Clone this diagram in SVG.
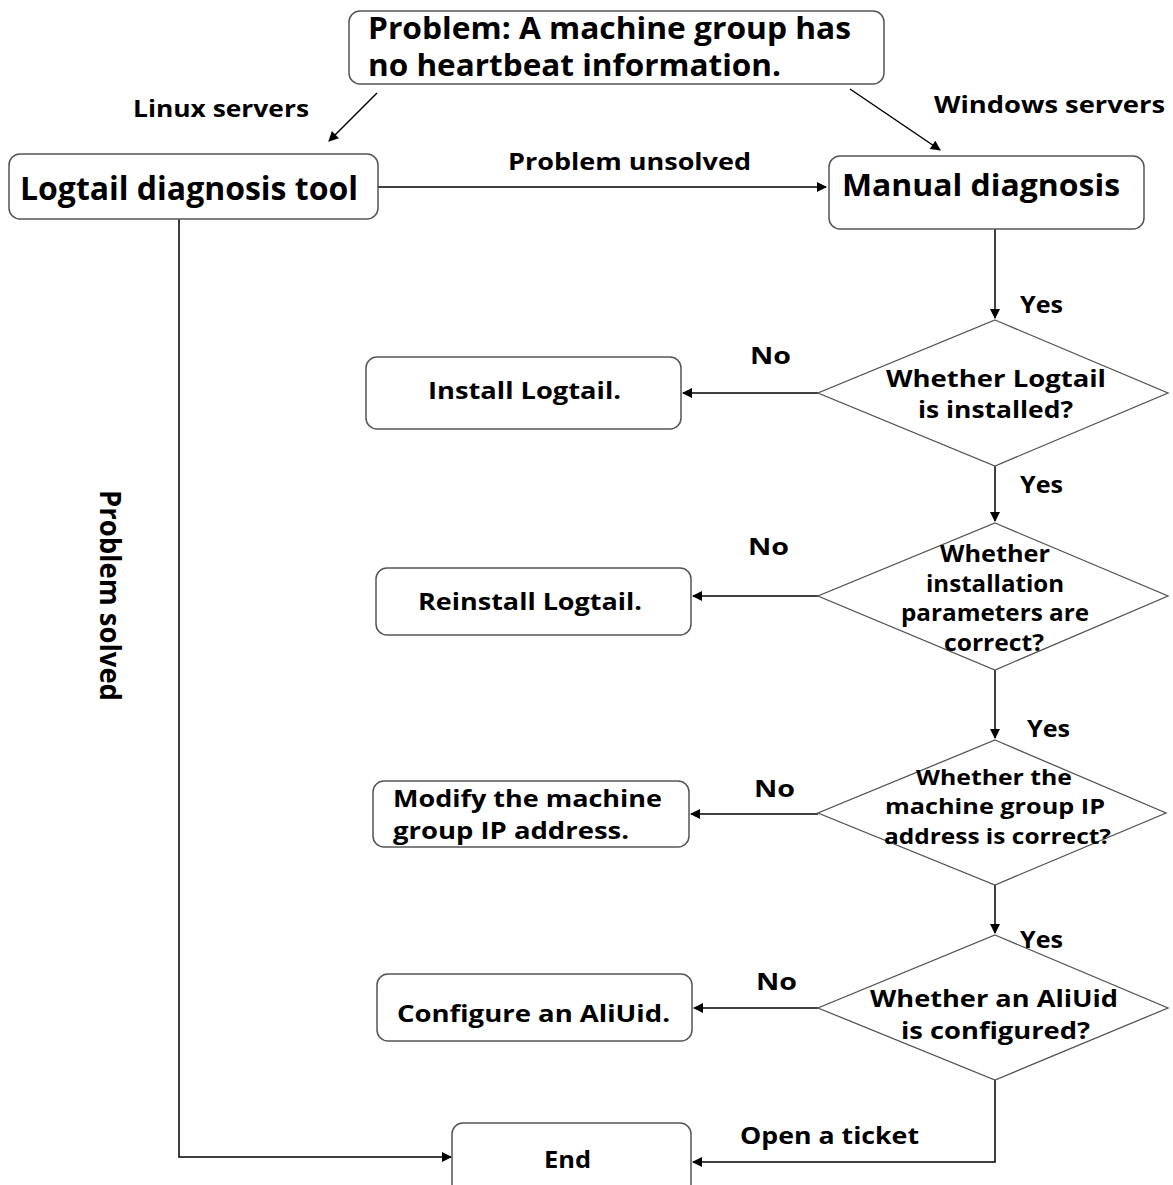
<svg xmlns="http://www.w3.org/2000/svg" width="1173" height="1185" viewBox="0 0 1173 1185">
<style>
.box{fill:#fff;stroke:#555;stroke-width:1.5}
.dia{fill:#fff;stroke:#555;stroke-width:1.3}
.t{font-family:"Open Sans","Noto Sans","DejaVu Sans",sans-serif;font-weight:bold;fill:#000}
.c{fill:none;stroke:#000;stroke-width:1.5}
</style>
<defs>
<marker id="ahs" viewBox="0 0 10 10" refX="9" refY="5" markerWidth="12" markerHeight="10" markerUnits="userSpaceOnUse" orient="auto">
<path d="M0,0 L10,5 L0,10 z" fill="#000"/>
</marker>
</defs>
<rect width="1173" height="1185" fill="#fff"/>
<g id="connectors">
<line class="c" x1="377" y1="93" x2="329" y2="141" marker-end="url(#ahs)"/>
<line class="c" x1="850" y1="89" x2="940" y2="150" marker-end="url(#ahs)"/>
<line class="c" x1="378" y1="187" x2="826" y2="187" marker-end="url(#ahs)"/>
<line class="c" x1="995" y1="229" x2="995" y2="318" marker-end="url(#ahs)"/>
<line class="c" x1="995" y1="466" x2="995" y2="521" marker-end="url(#ahs)"/>
<line class="c" x1="995" y1="670" x2="995" y2="738" marker-end="url(#ahs)"/>
<line class="c" x1="995" y1="885" x2="995" y2="933" marker-end="url(#ahs)"/>
<line class="c" x1="818" y1="393" x2="683" y2="393" marker-end="url(#ahs)"/>
<line class="c" x1="818" y1="596" x2="693" y2="596" marker-end="url(#ahs)"/>
<line class="c" x1="818" y1="814" x2="691" y2="814" marker-end="url(#ahs)"/>
<line class="c" x1="818" y1="1008" x2="694" y2="1008" marker-end="url(#ahs)"/>
<path class="c" d="M995,1080 V1162 H693" marker-end="url(#ahs)"/>
<path class="c" d="M179,218 V1157 H451" marker-end="url(#ahs)"/>
<text class="t" x="133" y="117" font-size="24" textLength="176" lengthAdjust="spacingAndGlyphs">Linux servers</text>
<text class="t" x="934" y="113" font-size="24" textLength="231" lengthAdjust="spacingAndGlyphs">Windows servers</text>
<text class="t" x="508" y="170" font-size="24" textLength="243" lengthAdjust="spacingAndGlyphs">Problem unsolved</text>
<text class="t" x="1020" y="313" font-size="24" textLength="43" lengthAdjust="spacingAndGlyphs">Yes</text>
<text class="t" x="750" y="364" font-size="24" textLength="41" lengthAdjust="spacingAndGlyphs">No</text>
<text class="t" x="1020" y="493" font-size="24" textLength="43" lengthAdjust="spacingAndGlyphs">Yes</text>
<text class="t" x="748" y="555" font-size="24" textLength="41" lengthAdjust="spacingAndGlyphs">No</text>
<text class="t" x="1027" y="737" font-size="24" textLength="43" lengthAdjust="spacingAndGlyphs">Yes</text>
<text class="t" x="754" y="797" font-size="24" textLength="41" lengthAdjust="spacingAndGlyphs">No</text>
<text class="t" x="1020" y="948" font-size="24" textLength="43" lengthAdjust="spacingAndGlyphs">Yes</text>
<text class="t" x="756" y="990" font-size="24" textLength="41" lengthAdjust="spacingAndGlyphs">No</text>
<text class="t" x="740" y="1144" font-size="24" textLength="179" lengthAdjust="spacingAndGlyphs">Open a ticket</text>
<text class="t" transform="translate(100,490) rotate(90)" x="0" y="0" font-size="28" textLength="211" lengthAdjust="spacingAndGlyphs">Problem solved</text>
</g>
<g id="n-problem">
<rect class="box" x="349" y="11" width="535" height="73" rx="11"/>
<text class="t" x="368" y="39" font-size="30" textLength="483" lengthAdjust="spacingAndGlyphs">Problem: A machine group has</text>
<text class="t" x="368" y="76" font-size="30" textLength="413" lengthAdjust="spacingAndGlyphs">no heartbeat information.</text>
</g>
<g id="n-logtail-tool">
<rect class="box" x="9" y="154" width="369" height="65" rx="11"/>
<text class="t" x="20" y="200" font-size="33" textLength="338" lengthAdjust="spacingAndGlyphs">Logtail diagnosis tool</text>
</g>
<g id="n-manual">
<rect class="box" x="829" y="156" width="315" height="73" rx="11"/>
<text class="t" x="842" y="196" font-size="31" textLength="278" lengthAdjust="spacingAndGlyphs">Manual diagnosis</text>
</g>
<g id="d-installed">
<polygon class="dia" points="995,320 1168,393 995,466 818,393"/>
<text class="t" x="886" y="387" font-size="24" textLength="220" lengthAdjust="spacingAndGlyphs">Whether Logtail</text>
<text class="t" x="918" y="418" font-size="24" textLength="155" lengthAdjust="spacingAndGlyphs">is installed?</text>
</g>
<g id="n-install">
<rect class="box" x="366" y="357" width="315" height="72" rx="11"/>
<text class="t" x="428" y="399" font-size="24" textLength="193" lengthAdjust="spacingAndGlyphs">Install Logtail.</text>
</g>
<g id="d-params">
<polygon class="dia" points="995,523 1168,596 995,670 818,596"/>
<text class="t" x="940" y="562" font-size="23" textLength="110" lengthAdjust="spacingAndGlyphs">Whether</text>
<text class="t" x="926" y="592" font-size="23" textLength="138" lengthAdjust="spacingAndGlyphs">installation</text>
<text class="t" x="901" y="621" font-size="23" textLength="188" lengthAdjust="spacingAndGlyphs">parameters are</text>
<text class="t" x="944" y="651" font-size="23" textLength="100" lengthAdjust="spacingAndGlyphs">correct?</text>
</g>
<g id="n-reinstall">
<rect class="box" x="376" y="568" width="315" height="67" rx="11"/>
<text class="t" x="418" y="610" font-size="24" textLength="224" lengthAdjust="spacingAndGlyphs">Reinstall Logtail.</text>
</g>
<g id="d-ip">
<polygon class="dia" points="995,740 1166,813 995,885 818,813"/>
<text class="t" x="916" y="785" font-size="22" textLength="156" lengthAdjust="spacingAndGlyphs">Whether the</text>
<text class="t" x="885" y="814" font-size="22" textLength="220" lengthAdjust="spacingAndGlyphs">machine group IP</text>
<text class="t" x="884" y="844" font-size="22" textLength="227" lengthAdjust="spacingAndGlyphs">address is correct?</text>
</g>
<g id="n-modify">
<rect class="box" x="373" y="781" width="316" height="66" rx="11"/>
<text class="t" x="393" y="807" font-size="24" textLength="269" lengthAdjust="spacingAndGlyphs">Modify the machine</text>
<text class="t" x="393" y="839" font-size="24" textLength="236" lengthAdjust="spacingAndGlyphs">group IP address.</text>
</g>
<g id="d-aliuid">
<polygon class="dia" points="995,935 1168,1008 995,1080 818,1008"/>
<text class="t" x="870" y="1007" font-size="24" textLength="248" lengthAdjust="spacingAndGlyphs">Whether an AliUid</text>
<text class="t" x="901" y="1039" font-size="24" textLength="189" lengthAdjust="spacingAndGlyphs">is configured?</text>
</g>
<g id="n-configure">
<rect class="box" x="377" y="974" width="315" height="67" rx="11"/>
<text class="t" x="397" y="1022" font-size="24" textLength="273" lengthAdjust="spacingAndGlyphs">Configure an AliUid.</text>
</g>
<g id="n-end">
<rect class="box" x="452" y="1123" width="239" height="80" rx="11"/>
<text class="t" x="544" y="1168" font-size="24" textLength="47" lengthAdjust="spacingAndGlyphs">End</text>
</g>
</svg>
